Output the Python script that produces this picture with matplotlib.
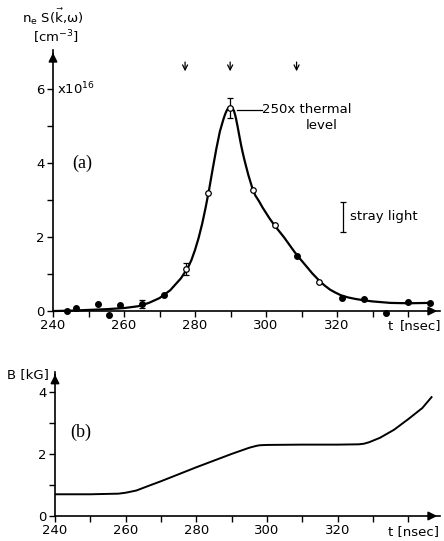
import matplotlib
matplotlib.use("Agg")
import matplotlib.pyplot as plt

# ---------- data (panel a) ----------
filled_t = [243.9, 246.5, 252.6, 255.8, 258.9, 265.0, 271.3, 308.6, 321.3, 327.6, 333.8, 340.1, 346.2]
filled_v = [0.00, 0.09, 0.19, -0.10, 0.15, 0.19, 0.43, 1.49, 0.36, 0.32, -0.06, 0.25, 0.21]
open_t = [277.4, 283.7, 289.9, 296.3, 302.5, 314.9]
open_v = [1.13, 3.18, 5.49, 3.27, 2.32, 0.79]
err_t = [265.0, 277.4, 289.9]
err_v = [0.19, 1.13, 5.49]
err_e = [0.10, 0.17, 0.27]

fit_t = [240, 245, 250, 255, 260, 264, 267, 270, 273, 276, 278, 279, 280, 281, 282, 283,
         284, 285, 286, 287, 288, 288.5, 289, 289.5, 290, 290.5, 291, 291.5, 292, 292.5,
         293, 293.5, 294, 295, 296.3, 297, 298, 299, 300, 301, 302.5, 304, 305, 306.5,
         308, 309.5, 311, 313, 315, 316.5, 318, 319.5, 321, 323, 325, 327.5, 330, 332.5,
         335, 340, 346.5]
fit_v = [0.0, 0.01, 0.03, 0.05, 0.08, 0.13, 0.22, 0.35, 0.56, 0.88, 1.17, 1.38, 1.65,
         1.97, 2.35, 2.8, 3.3, 3.85, 4.38, 4.85, 5.18, 5.32, 5.43, 5.5, 5.52, 5.49, 5.4,
         5.22, 4.98, 4.72, 4.47, 4.25, 4.05, 3.68, 3.27, 3.12, 2.97, 2.8, 2.65, 2.5, 2.3,
         2.12, 2.0, 1.8, 1.6, 1.42, 1.25, 1.02, 0.82, 0.69, 0.58, 0.5, 0.43, 0.37, 0.33,
         0.29, 0.26, 0.24, 0.22, 0.21, 0.22]

arrow_t = [277.2, 289.9, 308.6]

# ---------- data (panel b) ----------
b_t = [240, 250, 258, 260, 263, 266, 270, 280, 290, 295, 297, 298, 300, 310, 320, 326,
       327.5, 329, 332, 336, 340, 344, 346.6]
b_v = [0.70, 0.70, 0.72, 0.75, 0.82, 0.95, 1.12, 1.57, 2.0, 2.2, 2.26, 2.28, 2.29, 2.30,
       2.30, 2.31, 2.33, 2.38, 2.52, 2.78, 3.12, 3.48, 3.83]

x_major = [240, 260, 280, 300, 320]
x_minor = [250, 270, 290, 310, 330, 340]

FS = 9.5
plt.rcParams['font.family'] = ['DejaVu Sans']
plt.rcParams['mathtext.default'] = 'regular'

fig = plt.figure(figsize=(4.44, 5.41), dpi=100)

def style_axes(ax, xmax, ymax, ymaj, ymin_t):
    for s in ('top', 'right'):
        ax.spines[s].set_visible(False)
    ax.spines['bottom'].set_position(('data', 0))
    ax.spines['left'].set_bounds(0, ymax)
    ax.spines['bottom'].set_bounds(240, xmax)
    for s in ('left', 'bottom'):
        ax.spines[s].set_linewidth(1.2)
    ax.set_xticks(x_major)
    ax.set_xticks(x_minor, minor=True)
    ax.set_yticks(ymaj)
    ax.set_yticks(ymin_t, minor=True)
    ax.tick_params(which='both', direction='out', length=4, width=1.0, labelsize=FS, pad=2)
    ax.annotate('', xy=(xmax, 0), xytext=(xmax - 3, 0),
                arrowprops=dict(arrowstyle='-|>', color='k', lw=1.2, mutation_scale=13),
                annotation_clip=False)
    ax.annotate('', xy=(240, ymax), xytext=(240, ymax - 0.2),
                arrowprops=dict(arrowstyle='-|>', color='k', lw=1.2, mutation_scale=13),
                annotation_clip=False)

# ---------- panel (a) ----------
axa = fig.add_axes([53/444, (541-324)/541, 387/444, 274/541])
axa.set_xlim(240, 349)
axa.set_ylim(-0.35, 7.05)
style_axes(axa, 349, 7.05, [0, 2, 4, 6], [1, 3, 5])
axa.set_xticklabels([str(v) for v in x_major])

axa.plot(fit_t, fit_v, color='k', lw=1.6, zorder=2, solid_joinstyle='round')
axa.errorbar(err_t, err_v, yerr=err_e, fmt='none', ecolor='k', elinewidth=0.9,
             capsize=2.5, capthick=0.9, zorder=3)
axa.plot(filled_t, filled_v, 'o', color='k', ms=4, zorder=4, clip_on=False)
axa.plot(open_t, open_v, 'o', mfc='white', mec='k', mew=0.9, ms=4, zorder=4)

for t in arrow_t:
    axa.annotate('', xy=(t, 6.40), xytext=(t, 6.80),
                 arrowprops=dict(arrowstyle='->', color='k', lw=0.9, mutation_scale=9),
                 annotation_clip=False)

axa.text(241.2, 6.0, r'x10$^{16}$', fontsize=FS, ha='left', va='center')
axa.text(245.3, 4.0, '(a)', fontsize=13, family='Liberation Serif', ha='left', va='center')
axa.plot([291.8, 298.9], [5.43, 5.43], color='k', lw=0.9)
axa.text(299.0, 5.43, '250x thermal', fontsize=FS, ha='left', va='center')
axa.text(311.3, 5.02, 'level', fontsize=FS, ha='left', va='center')
axa.errorbar([321.6], [2.545], yerr=[0.405], fmt='none', ecolor='k', elinewidth=0.9,
             capsize=2.5, capthick=0.9)
axa.text(323.6, 2.55, 'stray light', fontsize=FS, ha='left', va='center')

fig.text(53/444, 1 - 17/541, r'n$_e$ S($\vec{k}$,$\omega$)', fontsize=FS,
         ha='center', va='center')
fig.text(56/444, 1 - 37/541, r'[cm$^{-3}$]', fontsize=FS, ha='center', va='center')
fig.text(388/444, 1 - 326/541, 't', fontsize=FS, ha='left', va='center')
fig.text(400/444, 1 - 326/541, '[nsec]', fontsize=FS, ha='left', va='center')

# ---------- panel (b) ----------
axb = fig.add_axes([55/444, (541-516)/541, 385/444, (516-371.7)/541])
axb.set_xlim(240, 349)
axb.set_ylim(0, 4.65)
style_axes(axb, 349, 4.65, [0, 2, 4], [1, 3])
axb.set_xticklabels([str(v) for v in x_major])
axb.plot(b_t, b_v, color='k', lw=1.4, solid_joinstyle='round')
axb.text(244.2, 2.7, '(b)', fontsize=13, family='Liberation Serif', ha='left', va='center')

fig.text(7/444, 1 - 375/541, 'B [kG]', fontsize=FS, ha='left', va='center')
fig.text(388/444, 1 - 532/541, 't [nsec]', fontsize=FS, ha='left', va='center')

fig.savefig('out.png', dpi=100)
